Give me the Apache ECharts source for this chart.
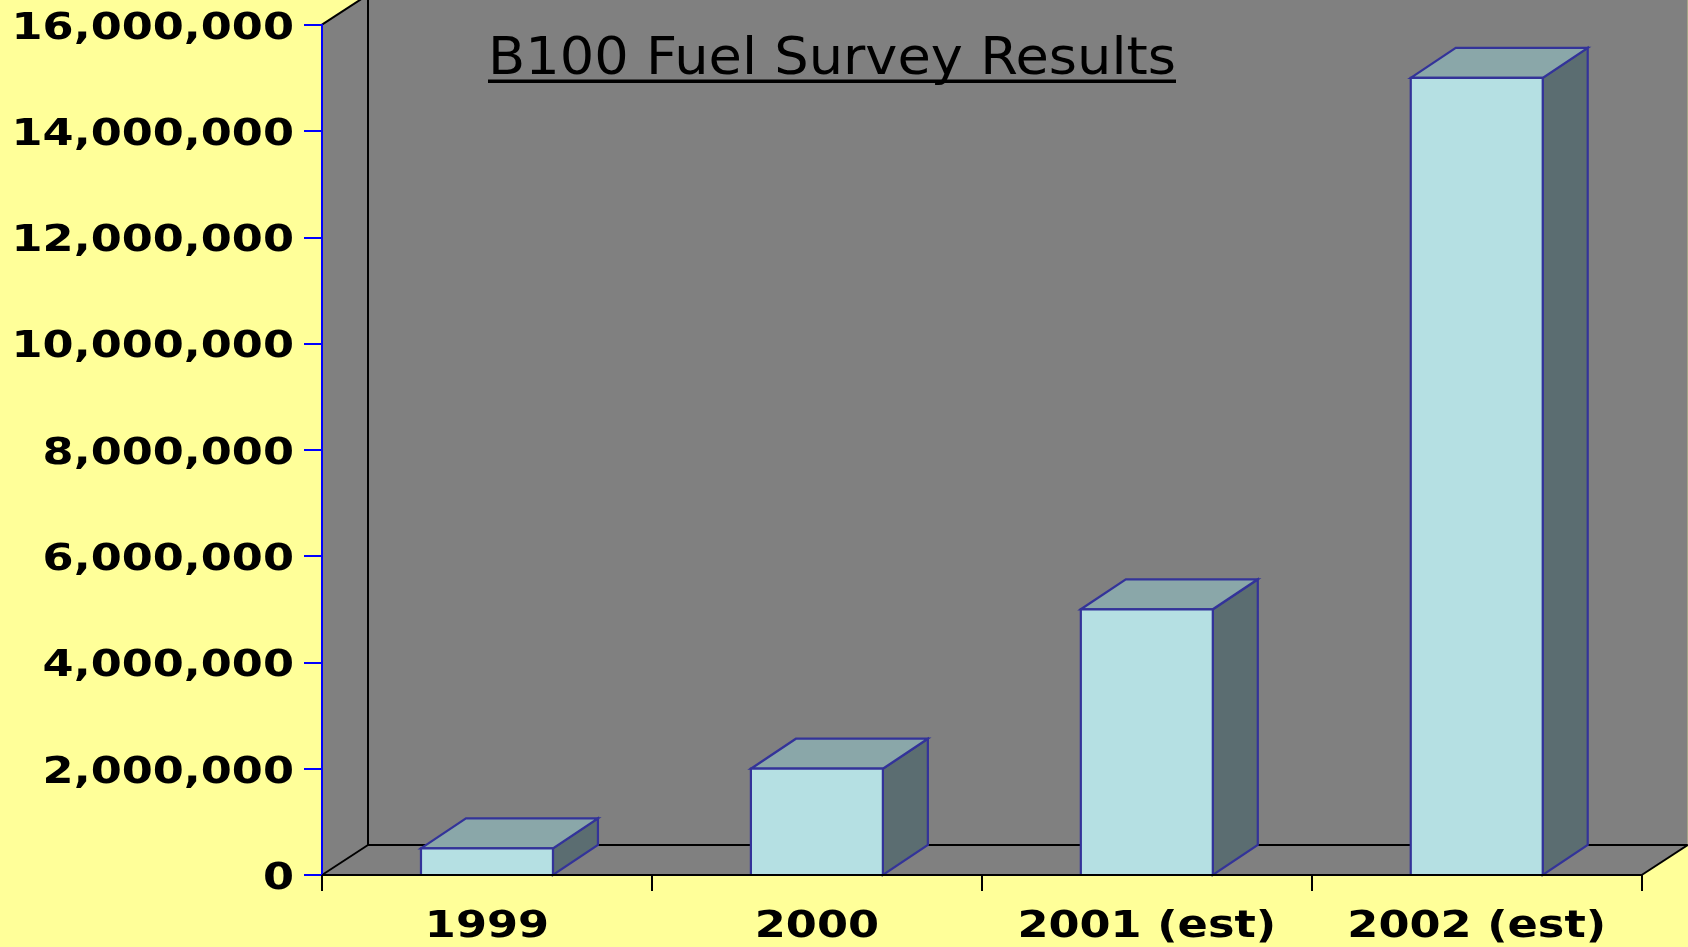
<!DOCTYPE html>
<html><head><meta charset="utf-8">
<style>html,body{margin:0;padding:0;background:#FFFF99}#c{width:1688px;height:947px}</style>
<script src="https://cdn.jsdelivr.net/npm/echarts@6/dist/echarts.min.js"></script>
</head><body><div id="c"></div>
<script>
const categories = ['1999', '2000', '2001 (est)', '2002 (est)'];
const values = [500000, 2000000, 5000000, 15000000];
const yTicks = [0, 2000000, 4000000, 6000000, 8000000, 10000000, 12000000, 14000000, 16000000];
const titleText = 'B100 Fuel Survey Results';

const DX = 46, DY = 30, BAR = 0.4, FONT = '"DejaVu Sans"';
const OUT = '#333399', FRONT = '#B5E0E3', TOP = '#8AA7A9', SIDE = '#5B6D71';
const chart = echarts.init(document.getElementById('c'), null, {renderer: 'canvas'});
const fmt = v => v.toLocaleString('en-US');
const blk = {stroke: '#000', lineWidth: 2, fill: null};

function line(x1, y1, x2, y2) {
  return {type: 'line', shape: {x1, y1, x2, y2}, style: blk, silent: true};
}
function walls(p, api) {
  const c = p.coordSys, l = c.x, r = c.x + c.width, t = c.y, b = c.y + c.height;
  return {type: 'group', children: [
    {type: 'polygon', shape: {points: [[l, t], [l + DX, t - DY], [r + DX, t - DY], [r + DX, b - DY], [r, b], [l, b]]},
      style: {fill: '#808080'}, silent: true},
    line(l, t, l + DX, t - DY), line(l, b, l + DX, b - DY), line(r, b, r + DX, b - DY),
    line(l + DX, t - DY, l + DX, b - DY), line(l + DX, b - DY, r + DX, b - DY)
  ]};
}
function bar(p, api) {
  const i = api.value(0), v = api.value(1);
  const a = api.coord([i, v]), z = api.coord([i, 0]), w = api.size([1, 0])[0] * BAR;
  const x0 = a[0] - w / 2, x1 = a[0] + w / 2, y0 = a[1], y1 = z[1];
  const st = fill => ({fill, stroke: OUT, lineWidth: 2.2, lineJoin: 'miter'});
  return {type: 'group', children: [
    {type: 'polygon', shape: {points: [[x1, y0], [x1 + DX - 1, y0 - DY], [x1 + DX - 1, y1 - DY], [x1, y1]]}, style: st(SIDE)},
    {type: 'polygon', shape: {points: [[x0, y0], [x0 + DX - 1, y0 - DY], [x1 + DX - 1, y0 - DY], [x1, y0]]}, style: st(TOP)},
    {type: 'rect', shape: {x: x0, y: y0, width: x1 - x0, height: y1 - y0}, style: st(FRONT)}
  ]};
}
function yLabel(p, api) {
  const v = api.value(0), pt = api.coord([0, v]), c = p.coordSys;
  return {type: 'text', x: c.x - 28, y: pt[1] + 4, scaleX: 1.175,
    style: {text: fmt(v), font: 'bold 38px ' + FONT, fill: '#000', align: 'right', verticalAlign: 'middle'}};
}
function xLabel(p, api) {
  const i = api.value(0), pt = api.coord([i, 0]);
  return {type: 'text', x: pt[0], y: pt[1] + 52, scaleX: 1.175,
    style: {text: categories[i], font: 'bold 38px ' + FONT, fill: '#000', align: 'center', verticalAlign: 'middle'}};
}
chart.setOption({
  animation: false,
  backgroundColor: '#FFFF99',
  grid: {left: 322, right: 46.3, top: 24.7, bottom: 72},
  graphic: [
    {type: 'text', x: 488, y: 60, scaleX: 1.043, z: 20,
     style: {text: titleText, font: '52px ' + FONT, fill: '#000', align: 'left', verticalAlign: 'middle'}},
    {type: 'rect', shape: {x: 488, y: 79.5, width: 688, height: 3.5}, style: {fill: '#000'}, z: 20}
  ],
  xAxis: {type: 'category', data: categories, z: 5,
    axisLine: {onZero: false, lineStyle: {color: '#000', width: 2.2}},
    axisTick: {show: true, length: 16, alignWithLabel: false, lineStyle: {color: '#000', width: 2}},
    axisLabel: {show: false}, splitLine: {show: false}},
  yAxis: {type: 'value', min: 0, max: 16000000, interval: 2000000, z: 5,
    axisLine: {show: true, lineStyle: {color: '#0000FF', width: 2}},
    axisTick: {show: true, length: 18, lineStyle: {color: '#0000FF', width: 2}},
    axisLabel: {show: false}, splitLine: {show: false}},
  series: [
    {type: 'custom', z: 1, clip: false, silent: true, renderItem: walls, data: [0]},
    {type: 'custom', z: 2, clip: false, silent: true, renderItem: bar, encode: {x: 0, y: 1},
     data: values.map((v, i) => [i, v])},
    {type: 'custom', z: 6, clip: false, silent: true, renderItem: yLabel, encode: {x: -1, y: 0}, data: yTicks.map(v => [v])},
    {type: 'custom', z: 6, clip: false, silent: true, renderItem: xLabel, encode: {x: 0, y: -1}, data: categories.map((c, i) => [i])}
  ]
});
</script></body></html>
